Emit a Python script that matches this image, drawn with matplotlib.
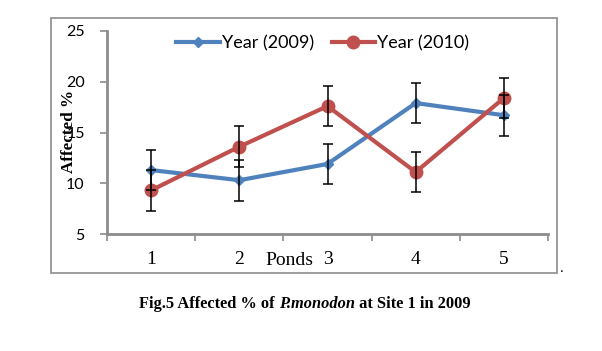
import matplotlib
matplotlib.use("Agg")
import matplotlib.pyplot as plt
from matplotlib.patches import Rectangle

ponds = [1, 2, 3, 4, 5]
pond_labels = ["1", "2", "3", "4", "5"]
year2009 = [11.3, 10.3, 11.9, 17.9, 16.7]
year2010 = [9.3, 13.6, 17.6, 11.1, 18.4]
err2009 = [2, 2, 2, 2, 2]
err2010 = [2, 2, 2, 2, 2]
yticks = [5, 10, 15, 20, 25]

W, H = 602, 351
fig = plt.figure(figsize=(W / 100, H / 100), dpi=100)
ax = fig.add_axes([107 / W, (H - 234) / H, (548 - 107) / W, (234 - 31) / H])

blue = "#4F81BD"
red = "#C0504D"
sans = "Lato"
serif = "Liberation Serif"
grey = "#8c8c8c"

ax.errorbar(ponds, year2009, yerr=err2009, fmt="none", ecolor="black",
            elinewidth=1.1, capsize=3.5, capthick=1.1, zorder=4)
ax.errorbar(ponds, year2010, yerr=err2010, fmt="none", ecolor="black",
            elinewidth=1.1, capsize=3.5, capthick=1.1, zorder=4)
ax.plot(ponds, year2009, color=blue, lw=3, marker="D", ms=5.5,
        label="Year (2009)", zorder=3)
ax.plot(ponds, year2010, color=red, lw=3, marker="o", ms=9,
        label="Year (2010)", zorder=3)

ax.set_xlim(0.5, 5.5)
ax.set_ylim(5, 25)
ax.set_yticks(yticks)
ax.set_yticklabels([str(v) for v in yticks], fontsize=11.5, family=sans)

ax.set_xticks([0.5, 1.5, 2.5, 3.5, 4.5, 5.5])
ax.set_xticklabels([])
ax.set_xticks(ponds, minor=True)
ax.set_xticklabels(pond_labels, minor=True, fontsize=14, family=serif)
ax.tick_params(axis="x", which="major", direction="out", length=5, width=1.2,
               color=grey)
ax.tick_params(axis="x", which="minor", length=0, pad=12)
ax.tick_params(axis="y", direction="out", length=5, width=1.2,
               color=grey, pad=11)

for s in ["top", "right"]:
    ax.spines[s].set_visible(False)
for s in ["left", "bottom"]:
    ax.spines[s].set_color(grey)
    ax.spines[s].set_linewidth(2)

leg = ax.legend(loc="center", bbox_to_anchor=(0.489, 0.94), ncol=2,
                frameon=False, prop={"family": sans, "size": 13},
                handlelength=2.4, handletextpad=0.1, columnspacing=1.0,
                borderpad=0, borderaxespad=0)

fig.text(69 / W, 1 - 131 / H, "Affected %", rotation=90, ha="center",
         va="center", family=serif, fontweight="bold", fontsize=12.3)
fig.text(289 / W, 1 - 265 / H, "Ponds", ha="center", va="baseline",
         family=serif, fontsize=14)

frame = Rectangle((51 / W, 1 - 273 / H), (557 - 51) / W, (273 - 18) / H,
                  transform=fig.transFigure, fill=False, edgecolor=grey,
                  lw=1.2)
fig.patches.append(frame)
fig.text(562 / W, 1 - 268 / H, ".", ha="center", va="center",
         family=serif, fontsize=11)

# Caption with italic species name, laid out piece by piece
pieces = [("Fig.5 Affected % of ", "normal"), ("P.monodon", "italic"),
          (" at Site 1 in 2009", "normal")]
renderer = fig.canvas.get_renderer()
cap_size = 11.8
texts = []
for s, style in pieces:
    t = fig.text(0, 1 - 308 / H, s, ha="left", va="baseline", family=serif,
                 fontweight="bold", style=style, fontsize=cap_size)
    texts.append(t)
widths = [t.get_window_extent(renderer).width for t in texts]
total = sum(widths)
x = (305 - total / 2)
for t, w in zip(texts, widths):
    t.set_x(x / W)
    x += w

fig.savefig("out.png", dpi=100)
